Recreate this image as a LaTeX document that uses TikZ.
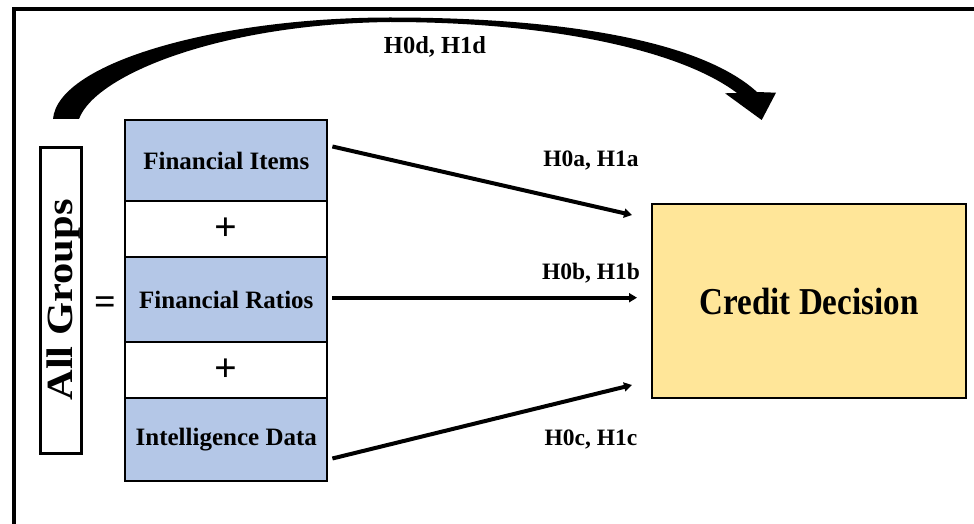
\documentclass[tikz,border=0pt]{standalone}
\usepackage{fontspec}
\setmainfont{Liberation Serif}
\usepackage{graphicx}
\usetikzlibrary{arrows.meta,calc}
\definecolor{boxblue}{HTML}{B4C7E7}
\definecolor{boxyellow}{HTML}{FFE699}
\begin{document}
\begin{tikzpicture}[x=1pt,y=-1pt,
  stack/.style={draw=black,line width=2.2pt,fill=boxblue,minimum width=202pt,inner sep=0pt,font=\fontsize{25}{28}\selectfont\bfseries},
  plusbox/.style={draw=black,line width=2.2pt,fill=white,minimum width=202pt,minimum height=56pt,inner sep=0pt,font=\fontsize{40}{42}\selectfont\bfseries},
  conn/.style={line width=4pt,-{Triangle[length=8pt,width=9pt]}},
  lbl/.style={font=\fontsize{23.5}{26}\selectfont\bfseries,inner sep=0pt}
]
\useasboundingbox (0,0) rectangle (974,524);
% outer frame (cropped)
\draw[line width=4pt] (14,530) -- (14,9) -- (980,9);

% left stack
\node[stack,minimum height=81pt] (fi) at (226.3,160.5) {Financial Items};
\node[plusbox] (p1) at (226.3,229) {+};
\node[stack,minimum height=85pt] (fr) at (226.3,299.5) {Financial Ratios};
\node[plusbox] (p2) at (226.3,370) {+};
\node[stack,minimum height=83pt] (id) at (226.3,439.5) {Intelligence Data};

% all groups
\node[draw=black,line width=2.2pt,fill=white,minimum width=41pt,minimum height=306pt,inner sep=0pt] (ag) at (61,300.5) {};
\node[rotate=90,inner sep=0pt,font=\fontsize{42.5}{44}\selectfont\bfseries] (agtext) at (64,300) {\scalebox{1}[0.87]{All Groups}};
\node[inner sep=0pt,font=\fontsize{38}{38}\selectfont\bfseries] (eq) at (105,306) {=};

% credit decision
\node[draw=black,line width=2.2pt,fill=boxyellow,minimum width=314pt,minimum height=194pt,inner sep=0pt,font=\fontsize{38}{40}\selectfont\bfseries] (cd) at (809,301) {\scalebox{0.87}[1]{Credit Decision}};

% arrows
\coordinate (ea) at (632,215);
\coordinate (eb) at (637,297.7);
\coordinate (ec) at (632,385);
\draw[conn] ($(fi.east)+(4,-14)$) -- (ea);
\draw[conn] ($(fr.east)+(4,-1.8)$) -- (eb);
\draw[conn] ($(id.east)+(4,19)$) -- (ec);

\node[lbl] (la) at (591,161) {H0a, H1a};
\node[lbl] (lb) at (591,273) {H0b, H1b};
\node[lbl] (lc) at (591,440) {H0c, H1c};

% big curved arrow
\fill[black] (53,119) .. controls (58,62) and (220,17.5) .. (390,17.5)
  .. controls (560,17.5) and (700,40) .. (757,92)
  -- (776,92.7) -- (761.7,120) -- (725,93.3) -- (737,93)
  .. controls (680,50) and (550,22) .. (390,22)
  .. controls (220,24) and (95,75) .. (79,119) -- cycle;
\node[lbl,font=\fontsize{24.5}{26}\selectfont\bfseries] (ld) at (435,47) {H0d, H1d};
\end{tikzpicture}
\end{document}
